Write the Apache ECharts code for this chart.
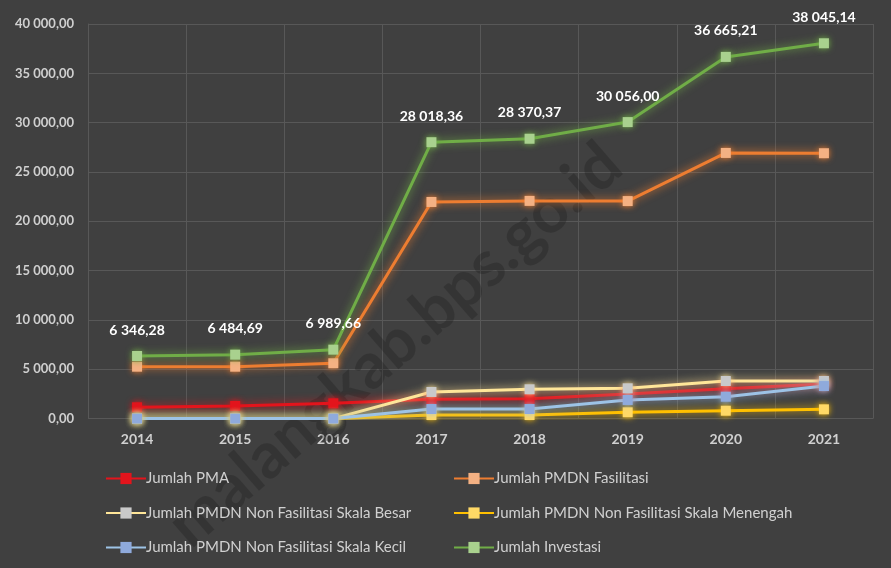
<!DOCTYPE html>
<html style="height: 100%">
<head>
  <meta charset="utf-8" />
  <title>Investasi 2014-2021</title>
  <script src="https://cdn.jsdelivr.net/npm/echarts@6.0.0/dist/echarts.min.js"></script>
</head>
<body style="height: 100%; margin: 0; background: #404040">
  <div id="chart" style="width: 891px; height: 568px"></div>
  <script>
    const years = ['2014', '2015', '2016', '2017', '2018', '2019', '2020', '2021'];
    const pma = [1146, 1280, 1550, 1960, 2000, 2490, 3030, 3500];
    const pmdnFasilitasi = [5264, 5264, 5610, 21960, 22070, 22050, 26930, 26900];
    const nonFasBesar = [0, 0, 0, 2700, 2970, 3070, 3810, 3810];
    const nonFasMenengah = [0, 0, 0, 360, 360, 640, 800, 940];
    const nonFasKecil = [0, 0, 0, 970, 970, 1890, 2220, 3300];
    const investasi = [6346.28, 6484.69, 6989.66, 28018.36, 28370.37, 30056.00, 36665.21, 38045.14];

    const font = 'Lato, "Open Sans", sans-serif';

    function fmt(v) {
      const parts = v.toFixed(2).split('.');
      return parts[0].replace(/\B(?=(\d{3})+(?!\d))/g, ' ') + ',' + parts[1];
    }

    function mk(name, data, line, mark, extra) {
      return Object.assign({
        name: name,
        type: 'line',
        data: data,
        symbol: 'rect',
        symbolSize: 10,
        z: 3,
        lineStyle: { color: line, width: 3, shadowColor: line, shadowBlur: 8 },
        itemStyle: { color: mark, shadowColor: line, shadowBlur: 6 }
      }, extra || {});
    }

    var chart = echarts.init(document.getElementById('chart'));

    const legendText = { color: '#d0d0d0', fontSize: 15, fontFamily: font, padding: [0, 0, 0, -5] };

    chart.setOption({
      backgroundColor: '#404040',
      animation: false,
      grid: { left: 88, right: 18, top: 24, bottom: 149.4 },
      xAxis: {
        type: 'category',
        data: years,
        axisLine: { show: false },
        axisTick: { show: false },
        splitLine: { show: true, lineStyle: { color: '#585858', width: 1 } },
        axisLabel: { color: '#d0d0d0', fontSize: 14, fontWeight: 'bold', fontFamily: font, margin: 14 }
      },
      yAxis: {
        type: 'value',
        min: 0,
        max: 40000,
        interval: 5000,
        axisLine: { show: true, lineStyle: { color: '#585858' } },
        splitLine: { lineStyle: { color: '#585858', width: 1 } },
        axisLabel: {
          color: '#d0d0d0', fontSize: 13, fontWeight: 'bold', fontFamily: font, margin: 14,
          formatter: fmt
        }
      },
      legend: [
        {
          data: ['Jumlah PMA', 'Jumlah PMDN Non Fasilitasi Skala Besar', 'Jumlah PMDN Non Fasilitasi Skala Kecil'],
          orient: 'vertical',
          left: 100, top: 466,
          itemWidth: 40, itemHeight: 14, itemGap: 19.5,
          textStyle: legendText
        },
        {
          data: ['Jumlah PMDN Fasilitasi', 'Jumlah PMDN Non Fasilitasi Skala Menengah', 'Jumlah Investasi'],
          orient: 'vertical',
          left: 448, top: 466,
          itemWidth: 40, itemHeight: 14, itemGap: 19.5,
          textStyle: legendText
        }
      ],
      graphic: [
        {
          type: 'text',
          x: 395, y: 345,
          rotation: Math.PI * 41 / 180,
          z: 1,
          silent: true,
          style: {
            text: 'malangkab.bps.go.id',
            fill: 'rgba(25,25,25,0.3)',
            font: 'bold 64px ' + font,
            align: 'center',
            verticalAlign: 'middle'
          }
        }
      ],
      series: [
        mk('Jumlah PMA', pma, '#e3141c', '#e3141c'),
        mk('Jumlah PMDN Fasilitasi', pmdnFasilitasi, '#ed7d31', '#f4b183'),
        mk('Jumlah PMDN Non Fasilitasi Skala Besar', nonFasBesar, '#ffe699', '#c9c9c9'),
        mk('Jumlah PMDN Non Fasilitasi Skala Menengah', nonFasMenengah, '#ffc000', '#ffd966'),
        mk('Jumlah PMDN Non Fasilitasi Skala Kecil', nonFasKecil, '#9dc3e6', '#8faadc'),
        mk('Jumlah Investasi', investasi, '#70ad47', '#a9d18e', {
          label: {
            show: true,
            position: 'top',
            distance: 14,
            color: '#ffffff',
            fontSize: 14,
            fontWeight: 'bold',
            fontFamily: font,
            formatter: p => fmt(p.value)
          }
        })
      ]
    });
  </script>
</body>
</html>
